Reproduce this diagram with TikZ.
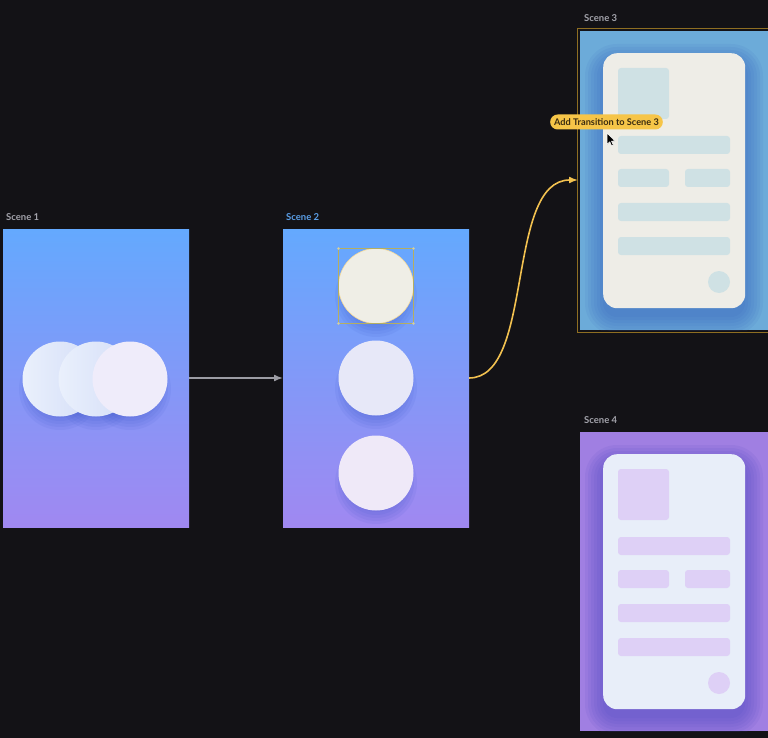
\documentclass[tikz,border=0pt]{standalone}
\usepackage{fontspec}
\setmainfont{Lato}
\usetikzlibrary{arrows.meta}
\usetikzlibrary{positioning}

\definecolor{bgdark}{HTML}{131216}
\definecolor{labelgray}{HTML}{A3A3AB}
\definecolor{labelblue}{HTML}{5B9FE8}
\definecolor{scenetop}{HTML}{64A9FE}
\definecolor{scenebot}{HTML}{A088F1}
\definecolor{ballshadow}{HTML}{3450C4}
\definecolor{ballAl}{HTML}{EAF0FC}
\definecolor{ballAr}{HTML}{D3DDF7}
\definecolor{ballC}{HTML}{EFECFA}
\definecolor{ballcream}{HTML}{EFEEE6}
\definecolor{ballmid}{HTML}{E7E8F8}
\definecolor{ballbot}{HTML}{EFE9F8}
\definecolor{flowgray}{HTML}{9C9CA4}
\definecolor{flowyellow}{HTML}{F2C150}
\definecolor{selolive}{HTML}{B4AE62}
\definecolor{selgold}{HTML}{8E6E22}
\definecolor{blueset}{HTML}{6CABD9}
\definecolor{blueshadow}{HTML}{3560BE}
\definecolor{cardcream}{HTML}{EEEDE7}
\definecolor{elemblue}{HTML}{CFE1E4}
\definecolor{purpleset}{HTML}{A07FE2}
\definecolor{purpleshadow}{HTML}{4A46C0}
\definecolor{cardlight}{HTML}{E8EEF9}
\definecolor{elemlilac}{HTML}{DED0F6}
\definecolor{tipyellow}{HTML}{F6C548}
\definecolor{tiptext}{HTML}{3A2B10}

\begin{document}
\begin{tikzpicture}[
  x=1pt, y=-1pt,
  > = {Latex[length=9pt,width=7pt]},
  scene/.style = {inner sep=0pt, outer sep=0pt, anchor=north west, minimum width=186pt, minimum height=298pt},
  scenelabel/.style = {inner sep=0pt, text=labelgray, font=\bfseries\fontsize{9.5}{11}\selectfont},
  ball/.style = {circle, inner sep=0pt, outer sep=0pt, minimum size=75pt},
  card/.style = {inner sep=0pt, anchor=north west, rounded corners=14pt, minimum width=142pt, minimum height=255pt},
  cardelem/.style = {rounded corners=3pt},
  tooltip/.style = {fill=tipyellow, text=tiptext, rounded corners=7.5pt, inner xsep=4pt, inner ysep=0pt, minimum height=15pt, font=\bfseries\fontsize{9.2}{10}\selectfont},
  flow/.style = {line width=1.6pt, ->}
  ]
  \useasboundingbox (0,0) rectangle (768,738);
  \fill[bgdark] (0,0) rectangle (768,738);

  % scenes
  \node[scene, top color=scenetop, bottom color=scenebot] (s1) at (3,229) {};
  \node[scene, top color=scenetop, bottom color=scenebot] (s2) at (283,229) {};
  \node[scene, fill=blueset, minimum width=190pt, minimum height=299pt] (s3) at (580,31) {};
  \node[scene, fill=purpleset, minimum width=190pt, minimum height=299pt] (s4) at (580,432) {};
  \draw[selgold, line width=1.8pt] ([xshift=-2.5pt,yshift=2.5pt]s3.north west) rectangle ([xshift=2.5pt,yshift=-2.5pt]s3.south east);

  \node[scenelabel, above right=8pt and 3pt of s1.north west] (l1) {Scene 1};
  \node[scenelabel, text=labelblue, above right=8pt and 3pt of s2.north west] (l2) {Scene 2};
  \node[scenelabel, above right=9pt and 4pt of s3.north west] (l3) {Scene 3};
  \node[scenelabel, above right=8pt and 4pt of s4.north west] (l4) {Scene 4};

  % balls
  \foreach \cx/\cy in {60/379,96/379,130/379,376/286,376/378,376/473}
    \foreach \d in {0,3,...,15}
      \fill[ballshadow, opacity=0.08] (\cx,\cy+10) circle ({26+\d});

  \node[ball, left color=ballAl, right color=ballAr] (a1) at (60,379) {};
  \node[ball, left color=ballAl, right color=ballAr] (a2) at (96,379) {};
  \node[ball, fill=ballC] (a3) at (130,379) {};

  \node[ball, fill=ballcream, draw=flowyellow!60, line width=0.6pt] (b1) at (376,286) {};
  \node[ball, fill=ballmid] (b2) at (376,378) {};
  \node[ball, fill=ballbot] (b3) at (376,473) {};

  \draw[selolive, line width=1pt] (b1.west |- b1.north) rectangle (b1.east |- b1.south);
  \foreach \k in {b1.west |- b1.north, b1.east |- b1.north, b1.west |- b1.south, b1.east |- b1.south}
    \fill[selolive!60!white] (\k) circle (1.3);

  % cards
  \begin{scope}
    \clip (s3.north west) rectangle (s3.south east);
    \foreach \d in {0,3,...,18}
      \fill[blueshadow, opacity=0.09, rounded corners={(14+\d)*1pt}] (603-\d,53-\d+9) rectangle (745+\d,308+\d+9);
  \end{scope}
  \begin{scope}
    \clip (s4.north west) rectangle (s4.south east);
    \foreach \d in {0,3,...,18}
      \fill[purpleshadow, opacity=0.09, rounded corners={(14+\d)*1pt}] (603-\d,454-\d+9) rectangle (745+\d,709+\d+9);
  \end{scope}

  \node[card, fill=cardcream] (p3) at (603,53) {};
  \node[card, fill=cardlight] (p4) at (603,454) {};

  \foreach \p/\ec in {p3/elemblue, p4/elemlilac} {
    \begin{scope}[shift={(\p.north west)}, fill=\ec]
      \fill[cardelem] (15,15) rectangle ++(51,51);
      \fill[cardelem] (15,83) rectangle ++(112,18);
      \fill[cardelem] (15,116) rectangle ++(51,18);
      \fill[cardelem] (82,116) rectangle ++(45,18);
      \fill[cardelem] (15,150) rectangle ++(112,18);
      \fill[cardelem] (15,184) rectangle ++(112,18);
      \fill (116,229) circle (11);
    \end{scope}
  }

  % transitions
  \coordinate (s3in) at (578,180);
  \draw[flow, flowgray] (s1.east) -- (s2.west);
  \draw[flow, flowyellow] (s2.east) .. controls (535,378) and (505,180) .. (s3in);

  \node[tooltip] (tip) at (606.5,122) {Add Transition to Scene 3};
  \filldraw[fill=black, draw=white, line width=0.5pt, shift={(607,133)}]
    (0,0) -- (0,11.5) -- (2.8,8.8) -- (4.6,12.8) -- (6.3,12) -- (4.5,8.2) -- (8,8.2) -- cycle;

\end{tikzpicture}
\end{document}
